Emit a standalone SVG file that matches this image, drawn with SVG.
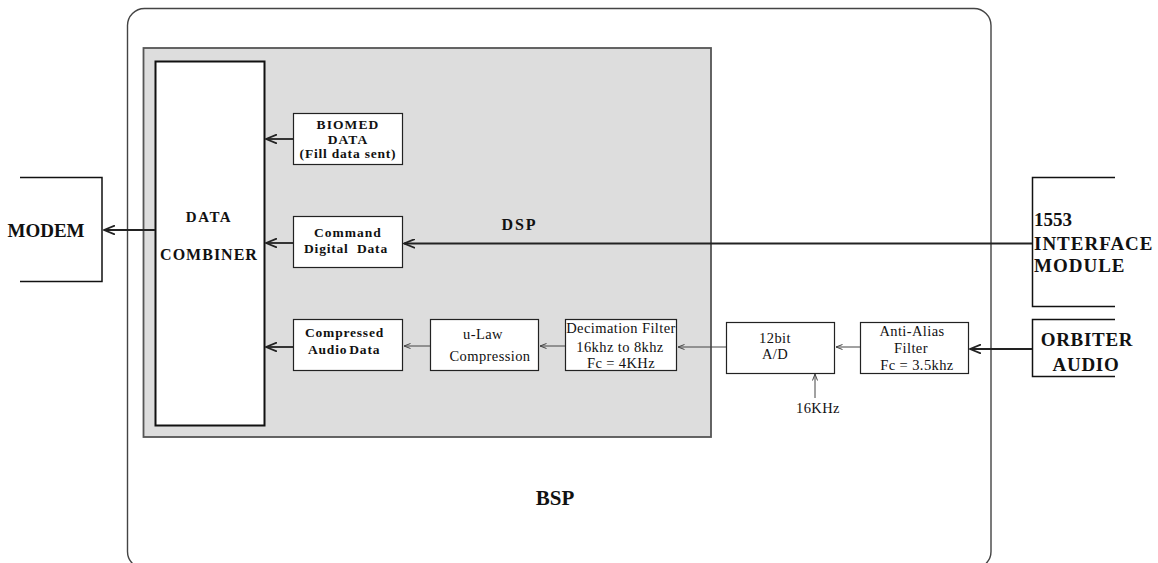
<svg xmlns="http://www.w3.org/2000/svg" width="1158" height="563" viewBox="0 0 1158 563">
<style>
.box{fill:#fff;stroke:#222;stroke-width:1.2}
.b{font-family:"Liberation Serif","Times New Roman",serif;font-weight:bold;fill:#111}
.r{font-family:"Liberation Serif","Times New Roman",serif;fill:#111;font-size:14.5px;letter-spacing:0.4px}
.thick{stroke:#222;stroke-width:1.8;fill:none}
.thin{stroke:#444;stroke-width:1;fill:none}
.brk{stroke:#111;stroke-width:1.5;fill:none}
</style>
<defs>
<marker id="ah" markerUnits="userSpaceOnUse" viewBox="0 0 12 10" markerWidth="12" markerHeight="10" refX="11" refY="5" orient="auto">
<path d="M0,0.5 L11,5 L0,9.5" fill="none" stroke="#222" stroke-width="1.8"/>
</marker>
<marker id="as" markerUnits="userSpaceOnUse" viewBox="0 0 7 6" markerWidth="7" markerHeight="6" refX="6.5" refY="3" orient="auto">
<path d="M0,0.5 L6.5,3 L0,5.5" fill="none" stroke="#444" stroke-width="1"/>
</marker>
</defs>

<g id="bsp">
<rect x="127.5" y="8.5" width="863.5" height="560" rx="17" ry="17" fill="#fff" stroke="#444" stroke-width="1.4"/>
<text class="b" x="555" y="505" font-size="21" text-anchor="middle">BSP</text>
</g>

<g id="dsp">
<rect x="143.5" y="48" width="567.5" height="389" fill="#dddddd" stroke="#555" stroke-width="1.8"/>
<text class="b" x="519.5" y="230" font-size="16" letter-spacing="2" text-anchor="middle">DSP</text>
</g>

<g id="combiner">
<rect x="155.5" y="61.5" width="109" height="364" fill="#fff" stroke="#111" stroke-width="2"/>
<text class="b" x="209" y="222" font-size="15" letter-spacing="1.5" text-anchor="middle">DATA</text>
<text class="b" x="209" y="260" font-size="16" letter-spacing="1" text-anchor="middle">COMBINER</text>
</g>

<g id="modem">
<path class="brk" d="M20,177.5 H102 V281.5 H20"/>
<text class="b" x="46" y="237" font-size="19" text-anchor="middle">MODEM</text>
</g>

<g id="biomed">
<rect class="box" x="293.5" y="113.5" width="109" height="51"/>
<text class="b" x="348" y="129" font-size="13.5" letter-spacing="1.1" text-anchor="middle">BIOMED</text>
<text class="b" x="348" y="144" font-size="13.5" letter-spacing="1.1" text-anchor="middle">DATA</text>
<text class="b" x="348" y="158" font-size="13.5" letter-spacing="0.8" text-anchor="middle">(Fill data sent)</text>
</g>

<g id="command">
<rect class="box" x="293.5" y="216.5" width="109" height="51"/>
<text class="b" x="348" y="237" font-size="13.5" letter-spacing="1" text-anchor="middle">Command</text>
<text class="b" x="346" y="253" font-size="13.5" letter-spacing="0.8" text-anchor="middle" xml:space="preserve">Digital  Data</text>
</g>

<g id="compressed">
<rect class="box" x="293.5" y="319.5" width="109" height="51"/>
<text class="b" x="305" y="337" font-size="13.5" letter-spacing="0.8">Compressed</text>
<text class="b" x="308" y="354" font-size="13.5" letter-spacing="0.8">Audio<tspan dx="2">Data</tspan></text>
</g>

<g id="ulaw">
<rect class="box" x="430.5" y="319.5" width="108" height="51"/>
<text class="r" x="483" y="339" text-anchor="middle">u-Law</text>
<text class="r" x="490" y="361" text-anchor="middle">Compression</text>
</g>

<g id="decimation">
<rect class="box" x="565.5" y="319.5" width="111" height="51"/>
<text class="r" x="621" y="333" text-anchor="middle">Decimation Filter</text>
<text class="r" x="620" y="352" text-anchor="middle">16khz to 8khz</text>
<text class="r" x="621" y="368" text-anchor="middle">Fc = 4KHz</text>
</g>

<g id="adc">
<rect class="box" x="726.5" y="322.5" width="108" height="51"/>
<text class="r" x="775" y="343" text-anchor="middle">12bit</text>
<text class="r" x="775" y="359" text-anchor="middle">A/D</text>
</g>

<g id="clock">
<text class="r" x="818" y="413" text-anchor="middle">16KHz</text>
</g>

<g id="antialias">
<rect class="box" x="860.5" y="322.5" width="108" height="51"/>
<text class="r" x="912" y="336" text-anchor="middle">Anti-Alias</text>
<text class="r" x="911" y="353" text-anchor="middle">Filter</text>
<text class="r" x="917" y="370" text-anchor="middle">Fc = 3.5khz</text>
</g>

<g id="interface">
<path class="brk" d="M1115,177.5 H1032.5 V306.5 H1115"/>
<text class="b" x="1034" y="226" font-size="19">1553</text>
<text class="b" x="1034" y="250" font-size="19" letter-spacing="1">INTERFACE</text>
<text class="b" x="1034" y="272" font-size="19" letter-spacing="1">MODULE</text>
</g>

<g id="orbiter">
<path class="brk" d="M1115,319.5 H1032.5 V376.5 H1115"/>
<text class="b" x="1087" y="346" font-size="19" letter-spacing="0.7" text-anchor="middle">ORBITER</text>
<text class="b" x="1086" y="371" font-size="19" letter-spacing="0.7" text-anchor="middle">AUDIO</text>
</g>

<g id="connectors">
<line class="thick" x1="155" y1="230" x2="104" y2="230" marker-end="url(#ah)"/>
<line class="thick" x1="293" y1="139" x2="266" y2="139" marker-end="url(#ah)"/>
<line class="thick" x1="293" y1="243" x2="266" y2="243" marker-end="url(#ah)"/>
<line class="thick" x1="1032" y1="243.5" x2="404" y2="243.5" stroke="#333" marker-end="url(#ah)"/>
<line class="thick" x1="293" y1="347" x2="266" y2="347" marker-end="url(#ah)"/>
<line class="thin" x1="430" y1="346" x2="404" y2="346" marker-end="url(#as)"/>
<line class="thin" x1="565" y1="346" x2="540" y2="346" marker-end="url(#as)"/>
<line class="thin" x1="726" y1="347" x2="678" y2="347" marker-end="url(#as)"/>
<line class="thin" x1="860" y1="347" x2="836" y2="347" marker-end="url(#as)"/>
<line class="thick" x1="1032" y1="349" x2="970" y2="349" marker-end="url(#ah)"/>
<line class="thin" x1="815" y1="398" x2="815" y2="374" marker-end="url(#as)"/>
</g>
</svg>
